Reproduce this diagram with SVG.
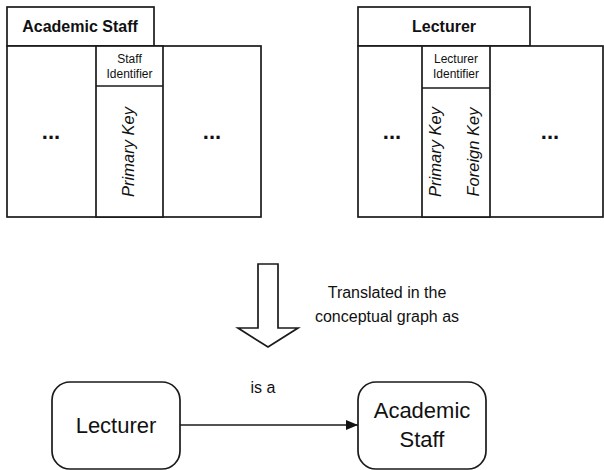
<svg xmlns="http://www.w3.org/2000/svg" width="604" height="470" viewBox="0 0 604 470">
<style>
.box{fill:#fff;stroke:#1a1a1a;stroke-width:1.7}
.hdr{font-family:"Liberation Sans",Arial,sans-serif;font-weight:bold;font-size:16px;fill:#111;text-anchor:middle}
.small{font-family:"Liberation Sans",Arial,sans-serif;font-size:12px;fill:#111;text-anchor:middle}
.dots{font-family:"Liberation Sans",Arial,sans-serif;font-weight:bold;font-size:22px;fill:#111;text-anchor:middle}
.key{font-family:"Liberation Sans",Arial,sans-serif;font-style:italic;font-size:16.5px;fill:#111;text-anchor:middle}
.lbl{font-family:"Liberation Sans",Arial,sans-serif;font-size:16px;fill:#111;text-anchor:middle}
.big{font-family:"Liberation Sans",Arial,sans-serif;font-size:22px;fill:#111;text-anchor:middle}
.node{fill:#fff;stroke:#1a1a1a;stroke-width:1.7}
.edge{fill:none;stroke:#1a1a1a;stroke-width:1.7}
</style>
<defs>
<marker id="ah" viewBox="0 0 12 10" refX="12" refY="5" markerWidth="12" markerHeight="10" markerUnits="userSpaceOnUse" orient="auto">
<path d="M0,0 L12,5 L0,10 z" fill="#111"/>
</marker>
</defs>

<g id="table-academic-staff">
<rect class="box" x="7" y="7" width="147" height="39"/>
<text class="hdr" x="80" y="32">Academic Staff</text>
<rect class="box" x="7" y="46" width="254" height="171"/>
<rect class="box" x="96" y="46" width="67" height="171"/>
<line class="box" x1="96" y1="86" x2="163" y2="86"/>
<text class="small" x="129.5" y="63">Staff</text>
<text class="small" x="129.5" y="78">Identifier</text>
<text class="dots" x="51" y="139">...</text>
<text class="dots" x="212" y="139">...</text>
<text class="key" transform="translate(134,152) rotate(-90)" x="0" y="0">Primary Key</text>
</g>

<g id="table-lecturer">
<rect class="box" x="358" y="7" width="172" height="39"/>
<text class="hdr" x="444" y="32">Lecturer</text>
<rect class="box" x="358" y="46" width="245" height="171"/>
<rect class="box" x="422" y="46" width="68" height="171"/>
<line class="box" x1="422" y1="88" x2="490" y2="88"/>
<text class="small" x="456" y="63">Lecturer</text>
<text class="small" x="456" y="78">Identifier</text>
<text class="dots" x="392" y="139">...</text>
<text class="dots" x="550" y="139">...</text>
<text class="key" transform="translate(441,152) rotate(-90)" x="0" y="0">Primary Key</text>
<text class="key" transform="translate(479,152) rotate(-90)" x="0" y="0">Foreign Key</text>
</g>

<g id="translate-arrow">
<polygon class="box" points="258,264 278,264 278,328 298,328 268,347 238,328 258,328"/>
<text class="lbl" x="387" y="298">Translated in the</text>
<text class="lbl" x="387" y="322">conceptual graph as</text>
</g>

<g id="node-lecturer">
<rect class="node" x="52" y="382" width="128" height="87" rx="18" ry="18"/>
<text class="big" x="116" y="433">Lecturer</text>
</g>

<g id="node-academic-staff">
<rect class="node" x="358" y="382" width="128" height="87" rx="18" ry="18"/>
<text class="big" x="422" y="418">Academic</text>
<text class="big" x="422" y="447">Staff</text>
</g>

<g id="connectors">
<line class="edge" x1="180" y1="425" x2="358" y2="425" marker-end="url(#ah)"/>
<text class="lbl" x="263" y="393">is a</text>
</g>
</svg>
